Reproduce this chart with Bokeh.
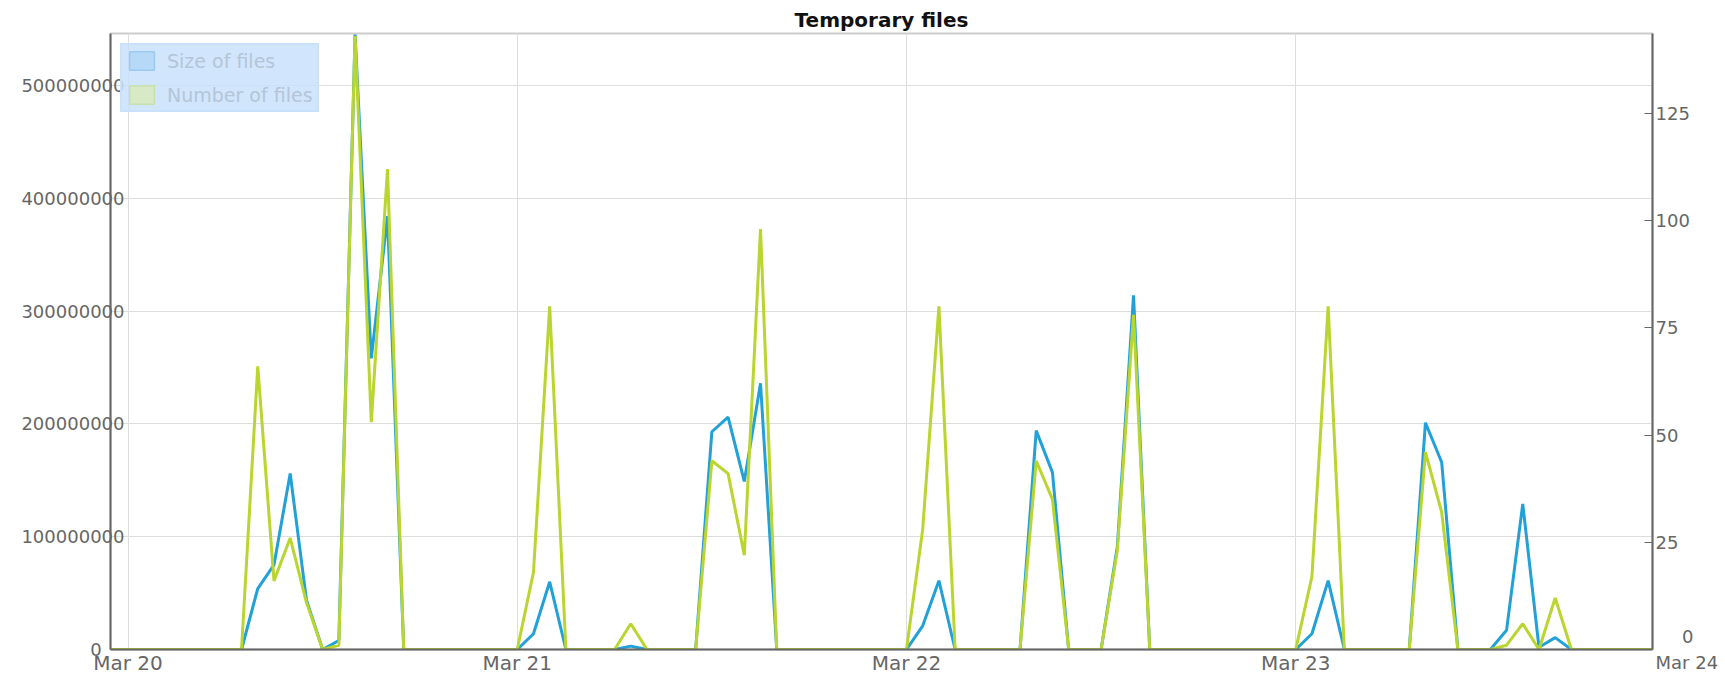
from bokeh.plotting import figure
from bokeh.models import (Range1d, LinearAxis, FixedTicker, BasicTickFormatter,
                          Legend, LegendItem, ColumnDataSource)
from bokeh.embed import file_html
from bokeh.resources import INLINE

# hours since Mar 20 00:00 (hourly samples)
hours = list(range(-1, 95))

# Size of files, in millions of bytes
size_millions = (
    [0]
    + [0, 0, 0, 0, 0, 0, 0, 0, 54, 75, 156, 44, 0, 8, 545, 258, 384, 0, 0, 0, 0, 0, 0, 0]
    + [0, 14, 60, 0, 0, 0, 0, 3, 0, 0, 0, 0, 193, 206, 149, 236, 0, 0, 0, 0, 0, 0, 0, 0]
    + [0, 21, 61, 0, 0, 0, 0, 0, 194, 157, 0, 0, 0, 91, 314, 0, 0, 0, 0, 0, 0, 0, 0, 0]
    + [0, 14, 61, 0, 0, 0, 0, 0, 201, 166, 0, 0, 0, 17, 129, 2, 10.5, 0, 0, 0, 0, 0, 0]
)

# Number of files
file_counts = (
    [0]
    + [0, 0, 0, 0, 0, 0, 0, 0, 66, 16, 26, 11, 0, 1, 143, 53, 112, 0, 0, 0, 0, 0, 0, 0]
    + [0, 18, 80, 0, 0, 0, 0, 6, 0, 0, 0, 0, 44, 41, 22, 98, 0, 0, 0, 0, 0, 0, 0, 0]
    + [0, 28, 80, 0, 0, 0, 0, 0, 44, 35, 0, 0, 0, 23, 78, 0, 0, 0, 0, 0, 0, 0, 0, 0]
    + [0, 17, 80, 0, 0, 0, 0, 0, 46, 32, 0, 0, 0, 1, 6, 0, 12, 0, 0, 0, 0, 0, 0]
)

day_ticks = [0, 24, 48, 72]
day_labels = ["Mar 20", "Mar 21", "Mar 22", "Mar 23"]
last_day_label = "Mar 24"
size_ticks = [0, 100000000, 200000000, 300000000, 400000000, 500000000]
count_ticks = [0, 25, 50, 75, 100, 125]

size_bytes = [v * 1000000 for v in size_millions]
src = ColumnDataSource(dict(h=hours, size=size_bytes, count=file_counts))

FONT = "DejaVu Sans"
LABEL_COLOR = "#666666"
BLUE = "#22a0d8"
GREEN = "#b9d52f"
LEGEND_BG = "#c9e1fb"
FIG = "\u2007"

p = figure(width=1721, height=677, output_backend="svg", toolbar_location=None,
           x_range=Range1d(-1.08, 94.0), y_range=Range1d(0, 546000000),
           min_border_left=110, min_border_right=68, min_border_top=33,
           min_border_bottom=25)

p.title.text = "Temporary files"
p.title.align = "center"
p.title.text_font = FONT
p.title.text_font_size = "20px"
p.title.text_font_style = "bold"
p.title.text_color = "#111111"
p.title.standoff = 4

p.outline_line_color = "#cccccc"
p.outline_line_width = 2
p.background_fill_color = "white"

p.extra_y_ranges = {"count": Range1d(0, 143.6)}

xa = p.xaxis[0]
xa.ticker = FixedTicker(ticks=day_ticks)
xa.major_label_overrides = {t: l for t, l in zip(day_ticks, day_labels)}
ya = p.yaxis[0]
ya.ticker = FixedTicker(ticks=size_ticks)
ya.formatter = BasicTickFormatter(use_scientific=False)
ya.major_label_overrides = {0: "0" + FIG + FIG}

ra = LinearAxis(y_range_name="count", ticker=FixedTicker(ticks=count_ticks))
ra.major_label_overrides = {0: FIG + FIG + "\u2009" + "0\n" + last_day_label}
p.add_layout(ra, "right")

for ax in (xa, ya, ra):
    ax.axis_line_color = "#666666"
    ax.axis_line_width = 2
    ax.major_label_text_font = FONT
    ax.major_label_text_color = LABEL_COLOR
    ax.minor_tick_line_color = None
    ax.major_tick_out = 0
    ax.major_tick_in = 0
xa.major_label_text_font_size = "20px"
ya.major_label_text_font_size = "18px"
ra.major_label_text_font_size = "18px"
ra.major_tick_in = 8
ra.major_tick_line_color = "#666666"
ra.major_tick_line_width = 1
ra.major_label_standoff = 3
xa.major_label_standoff = 1
ya.major_label_standoff = -14

p.xgrid.grid_line_color = "#dddddd"
p.ygrid.grid_line_color = "#dddddd"
p.xgrid.grid_line_width = 1
p.ygrid.grid_line_width = 1

p.line("h", "size", source=src, line_color=BLUE, line_width=3)
p.line("h", "count", source=src, y_range_name="count", line_color=GREEN, line_width=3)

# hidden box renderers, used only to draw square swatches in the legend
sw_size = p.quad(left="h", right="h", top="size", bottom=0, source=src,
                 fill_color="#b5d9f7", line_color="#9ccaee", line_width=1.5)
sw_size.visible = False
sw_count = p.quad(left="h", right="h", top="count", bottom=0, source=src,
                  y_range_name="count",
                  fill_color="#d8e9c6", line_color="#c6e0b0", line_width=1.5)
sw_count.visible = False

legend = Legend(items=[LegendItem(label="Size of files", renderers=[sw_size]),
                       LegendItem(label="Number of files", renderers=[sw_count])],
                location="top_left")
legend.margin = 10
legend.padding = 4
legend.spacing = 11
legend.glyph_width = 31
legend.glyph_height = 23
legend.label_height = 23
legend.label_standoff = 10
legend.label_text_font = FONT
legend.label_text_font_size = "19px"
legend.label_text_color = "#b4c5d8"
legend.background_fill_color = LEGEND_BG
legend.background_fill_alpha = 0.85
legend.border_line_color = LEGEND_BG
legend.border_line_width = 2
legend.border_line_alpha = 0.85
legend.inactive_fill_alpha = 0
p.add_layout(legend)

open("out.html", "w").write(file_html(p, INLINE))
